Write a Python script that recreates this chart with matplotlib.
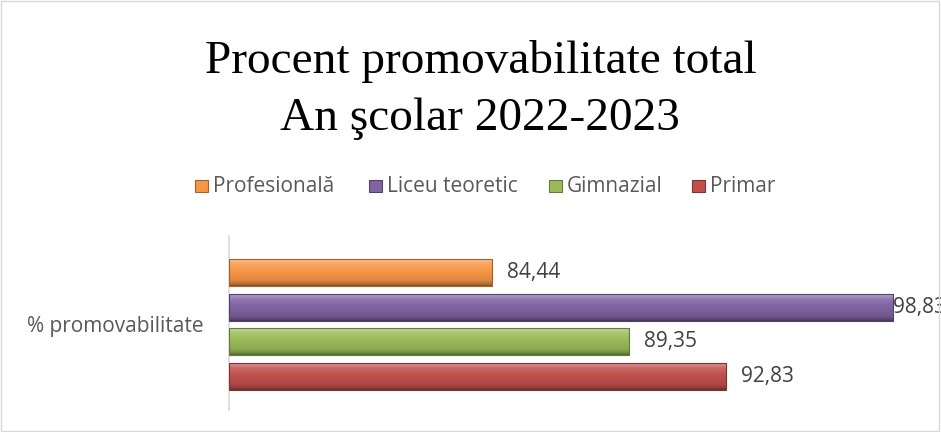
import numpy as np
import matplotlib
matplotlib.use("Agg")
import matplotlib.pyplot as plt
from matplotlib.colors import to_rgb
from matplotlib.patches import Rectangle

title_lines = ["Procent promovabilitate total", "An şcolar 2022-2023"]
category = "% promovabilitate"
series = ["Profesională", "Liceu teoretic", "Gimnazial", "Primar"]
values = [84.44, 98.83, 89.35, 92.83]
colors = ["#F79646", "#8064A2", "#9BBB59", "#C0504D"]
value_labels = ["84,44", "98,83", "89,35", "92,83"]

W, H = 941, 432
fig = plt.figure(figsize=(W / 100, H / 100), dpi=100)
fig.patch.set_facecolor("white")
fig.add_artist(Rectangle((0.001, 0.002), 0.997, 0.995, transform=fig.transFigure,
                         fill=False, edgecolor="#D9D9D9", linewidth=1))

SANS = ["Open Sans", "DejaVu Sans"]
FS = 15

ax = fig.add_axes([229 / W, 1 - 410 / H, 697 / W, 174 / H])
ax.set_xlim(75, 100)
n = len(series)
ypos = np.arange(n)[::-1].astype(float)
ax.set_ylim(-0.97, n - 1 + 1.05)
h = 0.78


def shade(c, f):
    c = np.array(to_rgb(c))
    if f >= 0:
        return c + (1 - c) * f
    return c * (1 + f)


bars = ax.barh(ypos, [v - 75 for v in values], left=75, height=h, color=colors,
               edgecolor="none", zorder=2)
for b, c in zip(bars, colors):
    x0, y0, w, hh = b.get_x(), b.get_y(), b.get_width(), b.get_height()
    t = np.linspace(0, 1, 64)
    prof = np.interp(t, [0, 0.08, 0.2, 0.55, 0.8, 0.92, 1.0],
                     [-0.45, -0.25, -0.1, 0.0, 0.15, 0.35, 0.2])
    img = np.array([shade(c, f) for f in prof])[:, None, :]
    im = ax.imshow(img, extent=[x0, x0 + w, y0, y0 + hh], origin="lower",
                   aspect="auto", zorder=3, interpolation="bilinear")
    im.set_clip_path(b)
    ax.add_patch(Rectangle((x0, y0), w, hh, fill=False,
                           edgecolor=shade(c, -0.35), linewidth=0.8, zorder=4))

for yv, v, lab in zip(ypos, values, value_labels):
    off = 0 if v > 98 else 15
    ax.annotate(lab, (v, yv), xytext=(off, 0), textcoords="offset pixels",
                ha="left", va="center", fontsize=FS, family=SANS, color="#404040",
                annotation_clip=False, zorder=5)

ax.set_xticks([])
ax.set_yticks([(n - 1) / 2])
ax.set_yticklabels([category], fontsize=FS, color="#595959", family=SANS)
ax.tick_params(axis="y", length=0, pad=18)
for s in ["top", "right", "bottom"]:
    ax.spines[s].set_visible(False)
ax.spines["left"].set_color("#D9D9D9")
ax.spines["left"].set_linewidth(1.2)
ax.patch.set_alpha(0)

fig.text(481 / W, 1 - 73 / H, title_lines[0], ha="center", va="baseline",
         fontsize=34, family="Liberation Serif", color="black")
fig.text(480 / W, 1 - 130 / H, title_lines[1], ha="center", va="baseline",
         fontsize=34, family="Liberation Serif", color="black")

# legend (manual placement)
leg_x = [195, 369, 549, 692]
leg_y = 1 - 186 / H
for x, name, c in zip(leg_x, series, colors):
    fig.add_artist(Rectangle((x / W, leg_y - 6 / H), 13 / W, 12 / H, transform=fig.transFigure,
                             facecolor=c, edgecolor=shade(c, -0.35), linewidth=0.8))
    fig.text((x + 18) / W, leg_y, name, ha="left", va="center", fontsize=FS,
             family=SANS, color="#595959")

fig.savefig("out.png", dpi=100)
